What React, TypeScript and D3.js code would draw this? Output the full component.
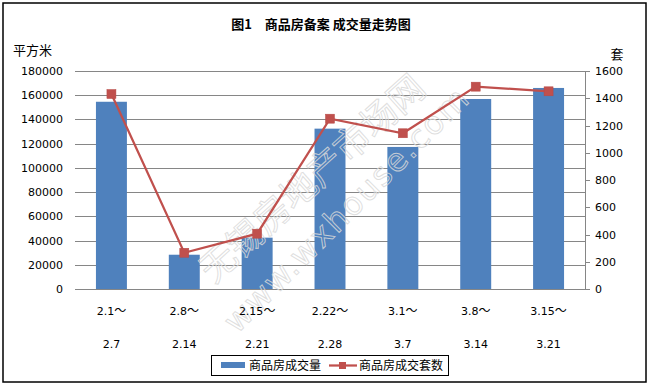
import React, { useRef, useEffect } from "react";
import * as d3 from "d3";

// chart data
const periodStart = ["2.1", "2.8", "2.15", "2.22", "3.1", "3.8", "3.15"];
const periodEnd = ["2.7", "2.14", "2.21", "2.28", "3.7", "3.14", "3.21"];
const areaSold = [154600, 28300, 42400, 132400, 117300, 156900, 166000];
const unitsSold = [1431, 266, 406, 1250, 1143, 1485, 1451];
const leftTicks = [0, 20000, 40000, 60000, 80000, 100000, 120000, 140000, 160000, 180000];
const rightTicks = [0, 200, 400, 600, 800, 1000, 1200, 1400, 1600];

const BAR = "#4F81BD";
const LINE = "#C0504D";
const GRID = "#868686";
const CJK = "'Noto Sans CJK SC', sans-serif";
const NUM = "'DejaVu Sans', sans-serif";

const App = () => {
  const svgRef = useRef<SVGSVGElement>(null);

  useEffect(() => {
    const width = 651;
    const height = 386;
    const left = 75;
    const right = 585;
    const top = 71;
    const bottom = 289;

    const svg = d3.select(svgRef.current).attr("width", width).attr("height", height);
    svg.selectAll("*").remove();

    const idx = periodStart.map((_, i) => i);
    const x = d3
      .scaleBand<number>()
      .domain(idx)
      .range([left, right])
      .paddingInner(0.575)
      .paddingOuter(0.2875);
    const yL = d3.scaleLinear().domain([0, 180000]).range([bottom, top]);
    const yR = d3.scaleLinear().domain([0, 1600]).range([bottom, top]);
    const cx = (i: number) => (x(i) as number) + x.bandwidth() / 2;

    svg.append("rect").attr("width", width).attr("height", height).attr("fill", "#fff");

    // outer frame
    svg
      .append("rect")
      .attr("x", 3)
      .attr("y", 3)
      .attr("width", 643)
      .attr("height", 379)
      .attr("fill", "none")
      .attr("stroke", "#000")
      .attr("stroke-width", 1.5);

    // title
    svg
      .append("text")
      .attr("x", 321)
      .attr("y", 29)
      .attr("text-anchor", "middle")
      .attr("font-family", CJK)
      .attr("font-size", 13)
      .attr("font-weight", "bold")
      .attr("xml:space", "preserve")
      .text("图1　商品房备案 成交量走势图");

    // axis units
    svg
      .append("text")
      .attr("x", 13)
      .attr("y", 55)
      .attr("font-family", CJK)
      .attr("font-size", 13)
      .text("平方米");
    svg
      .append("text")
      .attr("x", 617)
      .attr("y", 59)
      .attr("text-anchor", "middle")
      .attr("font-family", CJK)
      .attr("font-size", 13)
      .text("套");

    // gridlines
    svg
      .append("g")
      .selectAll("line")
      .data(leftTicks)
      .join("line")
      .attr("x1", left)
      .attr("x2", right)
      .attr("y1", (d) => Math.round(yL(d)) + 0.5)
      .attr("y2", (d) => Math.round(yL(d)) + 0.5)
      .attr("stroke", GRID)
      .attr("stroke-width", 1);

    // left tick labels
    svg
      .append("g")
      .selectAll("text")
      .data(leftTicks)
      .join("text")
      .attr("x", 63)
      .attr("y", (d) => yL(d) + 4)
      .attr("text-anchor", "end")
      .attr("font-family", NUM)
      .attr("font-size", 11)
      .text((d) => String(d));

    // right axis
    svg
      .append("line")
      .attr("x1", right + 0.5)
      .attr("x2", right + 0.5)
      .attr("y1", top)
      .attr("y2", bottom)
      .attr("stroke", GRID);
    svg
      .append("g")
      .selectAll("line")
      .data(rightTicks)
      .join("line")
      .attr("x1", right)
      .attr("x2", right + 5)
      .attr("y1", (d) => Math.round(yR(d)) + 0.5)
      .attr("y2", (d) => Math.round(yR(d)) + 0.5)
      .attr("stroke", GRID);
    svg
      .append("g")
      .selectAll("text")
      .data(rightTicks)
      .join("text")
      .attr("x", 595)
      .attr("y", (d) => yR(d) + 4)
      .attr("font-family", NUM)
      .attr("font-size", 11)
      .text((d) => String(d));

    // bars
    svg
      .append("g")
      .selectAll("rect")
      .data(areaSold)
      .join("rect")
      .attr("x", (_, i) => x(i) as number)
      .attr("y", (d) => yL(d))
      .attr("width", x.bandwidth())
      .attr("height", (d) => bottom - yL(d))
      .attr("fill", BAR);

    // watermark, over the bars
    const wm = svg
      .append("g")
      .attr("fill", "none")
      .attr("stroke", "#d9d9d9")
      .attr("stroke-opacity", 0.85)
      .attr("stroke-width", 1);
    wm.append("text")
      .attr("transform", "translate(310,176) rotate(-42)")
      .attr("text-anchor", "middle")
      .attr("dominant-baseline", "central")
      .attr("font-family", CJK)
      .attr("font-size", 36)
      .text("无锡房地产市场网");
    wm.append("text")
      .attr("transform", "translate(346,210) rotate(-45)")
      .attr("text-anchor", "middle")
      .attr("dominant-baseline", "central")
      .attr("font-family", NUM)
      .attr("font-size", 32)
      .attr("textLength", 330)
      .text("www.wxhouse.com");

    // line series
    const line = d3
      .line<number>()
      .x((_, i) => cx(i))
      .y((d) => yR(d));
    svg
      .append("path")
      .datum(unitsSold)
      .attr("d", line)
      .attr("fill", "none")
      .attr("stroke", LINE)
      .attr("stroke-width", 2.25);
    svg
      .append("g")
      .selectAll("rect")
      .data(unitsSold)
      .join("rect")
      .attr("x", (_, i) => cx(i) - 4.5)
      .attr("y", (d) => yR(d) - 4.5)
      .attr("width", 9)
      .attr("height", 9)
      .attr("fill", LINE)
      .attr("stroke", "#b84a47")
      .attr("stroke-width", 0.5);

    // category labels, two lines; the wave dash is set in the CJK font
    const startLabels = svg
      .append("g")
      .selectAll("text")
      .data(periodStart)
      .join("text")
      .attr("x", (_, i) => cx(i))
      .attr("y", 315)
      .attr("text-anchor", "middle")
      .attr("font-family", NUM)
      .attr("font-size", 11);
    startLabels.append("tspan").text((d) => d);
    startLabels.append("tspan").attr("font-family", CJK).attr("font-size", 12).text("～");
    svg
      .append("g")
      .selectAll("text")
      .data(periodEnd)
      .join("text")
      .attr("x", (_, i) => cx(i))
      .attr("y", 348)
      .attr("text-anchor", "middle")
      .attr("font-family", NUM)
      .attr("font-size", 11)
      .text((d) => d);

    // legend
    const lg = svg.append("g");
    lg.append("rect")
      .attr("x", 211.5)
      .attr("y", 355.5)
      .attr("width", 237)
      .attr("height", 20)
      .attr("fill", "#fff")
      .attr("stroke", "#000");
    lg.append("rect").attr("x", 221).attr("y", 362).attr("width", 24).attr("height", 6).attr("fill", BAR);
    lg.append("text")
      .attr("x", 249)
      .attr("y", 370)
      .attr("font-family", CJK)
      .attr("font-size", 12)
      .text("商品房成交量");
    lg.append("line")
      .attr("x1", 329)
      .attr("x2", 357)
      .attr("y1", 365.5)
      .attr("y2", 365.5)
      .attr("stroke", LINE)
      .attr("stroke-width", 2.25);
    lg.append("rect").attr("x", 339).attr("y", 362).attr("width", 7).attr("height", 7).attr("fill", LINE);
    lg.append("text")
      .attr("x", 359)
      .attr("y", 370)
      .attr("font-family", CJK)
      .attr("font-size", 12)
      .text("商品房成交套数");
  }, []);

  return (
    <div style={{ position: "absolute", left: 0, top: 0 }}>
      <svg ref={svgRef} style={{ display: "block" }}></svg>
    </div>
  );
};

export default App;
